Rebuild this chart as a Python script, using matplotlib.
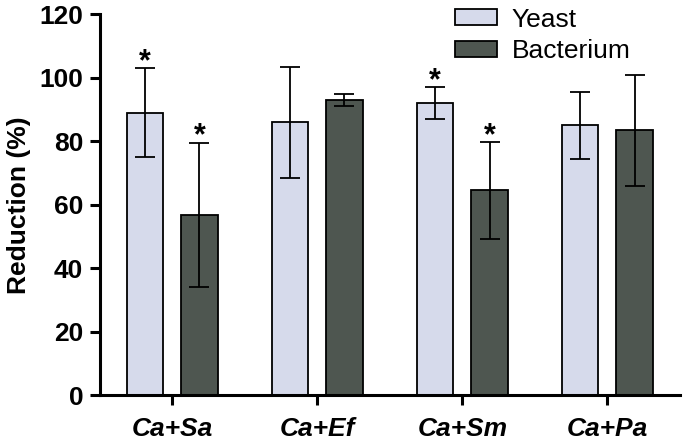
import matplotlib
matplotlib.use("Agg")
import matplotlib.pyplot as plt
import numpy as np

categories = ["Ca+Sa", "Ca+Ef", "Ca+Sm", "Ca+Pa"]
yeast = [89, 86, 92, 85]
yeast_err = [14, 17.5, 5, 10.5]
bacterium = [56.7, 93, 64.5, 83.5]
bacterium_err = [22.7, 2, 15.2, 17.5]
yeast_star = [True, False, True, False]
bact_star = [True, False, True, False]
yticks = [0, 20, 40, 60, 80, 100, 120]

plt.rcParams['font.family'] = ['Liberation Sans', 'DejaVu Sans']

fig = plt.figure(figsize=(6.84, 4.45), dpi=100)
ax = fig.add_axes([0.146, 0.112, 0.848, 0.856])

x = np.arange(len(categories))
w = 0.25
off = 0.187
yc = "#d6daeb"
bc = "#4e5650"
ekw = dict(elinewidth=1.3, capthick=1.3, capsize=7.5, ecolor="black")
ax.bar(x - off, yeast, w, color=yc, edgecolor="black", linewidth=1.3,
       yerr=yeast_err, error_kw=ekw, label="Yeast", zorder=2)
ax.bar(x + off, bacterium, w, color=bc, edgecolor="black", linewidth=1.3,
       yerr=bacterium_err, error_kw=ekw, label="Bacterium", zorder=2)

for i in range(len(categories)):
    if yeast_star[i]:
        ax.text(x[i] - off, yeast[i] + yeast_err[i] - 0.5, "*", ha="center",
                va="baseline", fontsize=22, fontweight="bold")
    if bact_star[i]:
        ax.text(x[i] + off, bacterium[i] + bacterium_err[i] - 0.5, "*", ha="center",
                va="baseline", fontsize=22, fontweight="bold")

ax.set_xlim(-0.5, 3.5)
ax.set_ylim(0, 120)
ax.set_yticks(yticks)
ax.set_xticks(x)
ax.set_xticklabels(categories, fontstyle="italic", fontweight="bold", fontsize=19)
for lab in ax.get_yticklabels():
    lab.set_fontweight("bold")
    lab.set_fontsize(19)
ax.set_ylabel("Reduction (%)", fontsize=19, fontweight="bold", labelpad=6)

for s in ["top", "right"]:
    ax.spines[s].set_visible(False)
for s in ["left", "bottom"]:
    ax.spines[s].set_linewidth(2.2)
ax.tick_params(axis="both", direction="out", length=7, width=2.2, pad=5)
ax.tick_params(axis="x", pad=9)

ax.legend(loc="upper right", bbox_to_anchor=(0.956, 1.08), frameon=False,
          fontsize=19, handlelength=1.6, handleheight=0.55, labelspacing=0.3,
          handletextpad=0.55)

fig.savefig("out.png", dpi=100)
